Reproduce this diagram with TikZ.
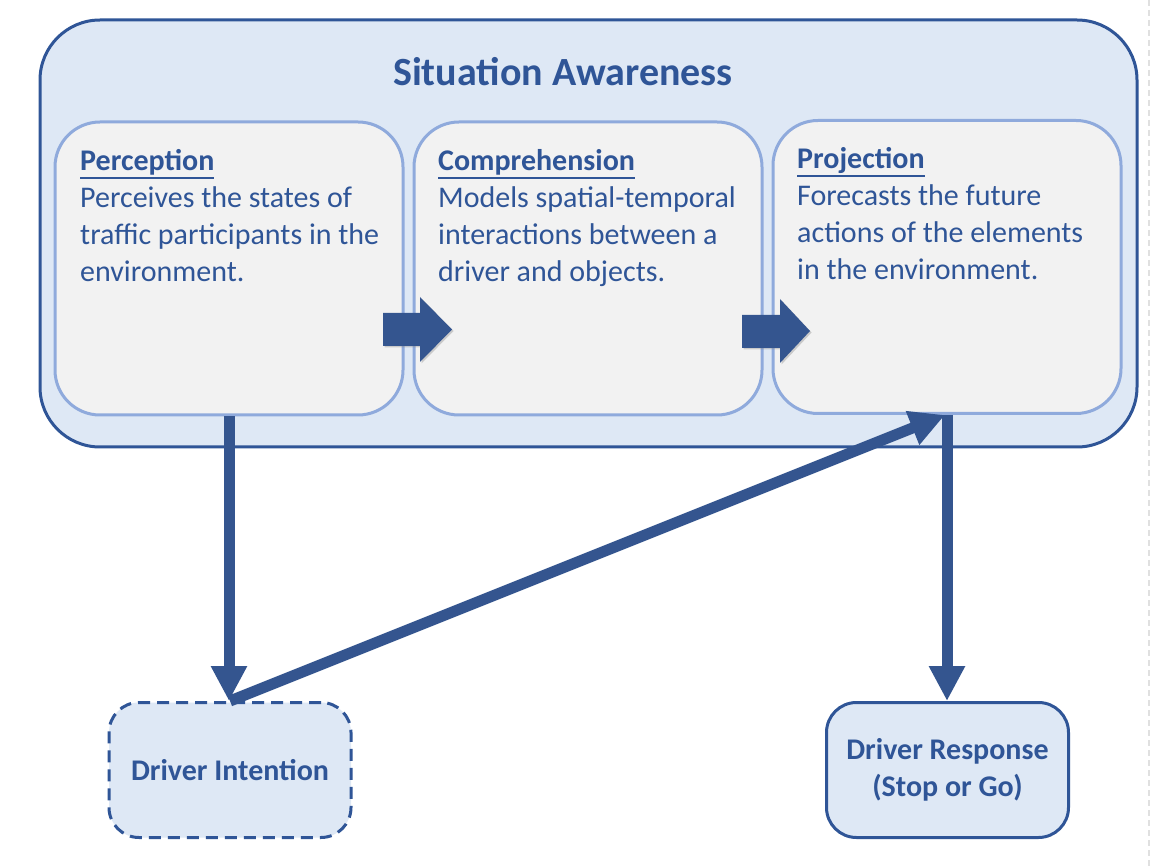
\documentclass[tikz,border=0pt]{standalone}
\usepackage{fontspec}
\setmainfont{Carlito}
\usetikzlibrary{arrows.meta,shadows}
\definecolor{txtblue}{HTML}{2F5597}
\definecolor{arrowblue}{HTML}{34558F}
\definecolor{outerfill}{HTML}{DEE8F5}
\definecolor{outerline}{HTML}{2F5597}
\definecolor{innerfill}{HTML}{F2F2F2}
\definecolor{innerline}{HTML}{8FAADC}
\newcommand\myul[1]{\setbox0\hbox{#1}\rlap{\rule[-8.5pt]{\wd0}{1.8pt}}\box0}
\tikzset{
  outerbox/.style={draw=outerline, line width=3pt, fill=outerfill, rounded corners=60pt, inner sep=0pt},
  innerbox/.style={draw=innerline, line width=3pt, fill=innerfill, rounded corners=45pt, inner sep=0pt, minimum width=348pt, minimum height=293pt},
  drivebox/.style={draw=outerline, line width=3pt, fill=outerfill, rounded corners=30pt, inner sep=0pt, minimum width=242pt, minimum height=135pt, text=txtblue, font=\bfseries\fontsize{30}{37}\selectfont, align=center},
  bodytext/.style={anchor=north west, align=left, inner sep=0pt, text=txtblue, font=\fontsize{30}{37}\selectfont},
  blockarrow/.style={fill=arrowblue, drop shadow={opacity=0.35, shadow xshift=1.5pt, shadow yshift=-1.5pt}},
  conn/.style={draw=arrowblue, line width=11pt, -{Triangle[length=35pt,width=34pt]}}
}
\begin{document}
\begin{tikzpicture}[x=1pt,y=-1pt]
\useasboundingbox[fill=white] (0,0) rectangle (1152,866);
\draw[black!12, line width=1.2pt, dash pattern=on 6pt off 4pt] (1149,0) -- (1149,866);
\node[outerbox, minimum width=1097pt, minimum height=427pt] (sa) at (588.5,233.5) {};
\node[text=txtblue, font=\bfseries\fontsize{40}{48}\selectfont, inner sep=0pt] (title) at (563,72) {Situation Awareness};
\node[innerbox] (perc) at (229,268.5) {};
\node[innerbox] (comp) at (588,268.5) {};
\node[innerbox] (proj) at (947,267) {};
\fill[blockarrow] (383,313) -- (420,313) -- (420,297) -- (452,329.5) -- (420,362) -- (420,346) -- (383,346) -- cycle;
\fill[blockarrow] (742,315) -- (780,315) -- (780,299) -- (810,331) -- (780,363) -- (780,348) -- (742,348) -- cycle;
\node[bodytext] (perct) at (80,149.5) {\textbf{\myul{Perception}}\\Perceives the states of\\traffic participants in the\\environment.};
\node[bodytext] (compt) at (438,149.5) {\textbf{\myul{Comprehension}}\\Models spatial-temporal\\interactions between a\\driver and objects.};
\node[bodytext] (projt) at (797,147.5) {\textbf{\myul{Projection}}\\Forecasts the future\\actions of the elements\\in the environment.};
\node[drivebox, dashed, dash pattern=on 12pt off 7pt] (di) at (230,770) {Driver Intention};
\node[drivebox] (dr) at (947.5,770) {Driver Response\\(Stop or Go)};
\draw[conn] (perc.south) -- (perc.south |- di.north);
\draw[conn] (di.north) -- ([xshift=-2pt]proj.south);
\draw[conn] (proj.south) -- (proj.south |- dr.north);
\end{tikzpicture}
\end{document}
